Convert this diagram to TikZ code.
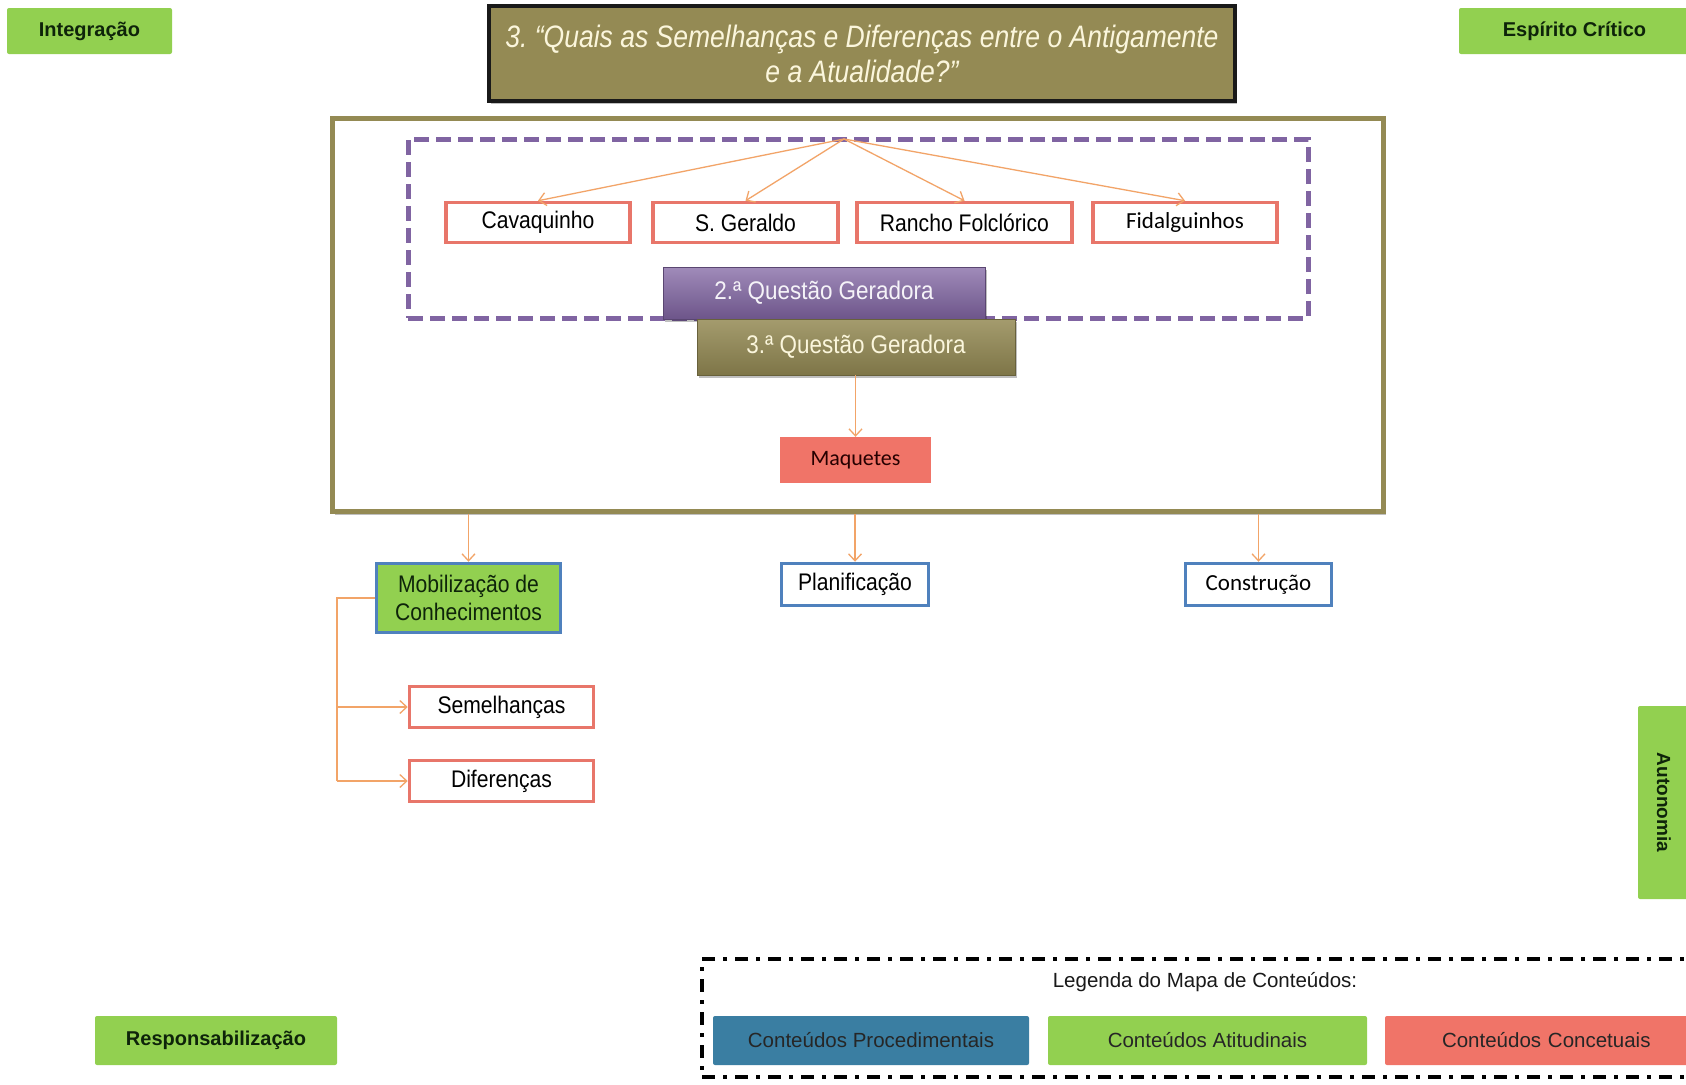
\documentclass[tikz,border=0pt]{standalone}
\usepackage{fontspec}
\setmainfont{Liberation Sans}
\newfontfamily\narrowf[FakeStretch=0.88]{Liberation Sans}
\newfontfamily\titlef[FakeStretch=0.855]{Liberation Sans}
\newfontfamily\calf{Carlito}
\usetikzlibrary{arrows.meta,shadows,calc}
\definecolor{lgreen}{HTML}{92D050}
\definecolor{olivec}{HTML}{948A54}
\definecolor{purp}{HTML}{8064A2}
\definecolor{salmon}{HTML}{E8766A}
\definecolor{salfill}{HTML}{F07468}
\definecolor{bblue}{HTML}{4F81BD}
\definecolor{tealb}{HTML}{3A7EA2}
\definecolor{arrc}{HTML}{F2A468}
\definecolor{dkgreen}{HTML}{0E240A}
\definecolor{cream}{HTML}{FBF6DC}
\tikzset{
  greenlab/.style={fill=lgreen, rounded corners=2pt, text=dkgreen, inner sep=0pt,
    font=\bfseries\fontsize{20}{24}\selectfont},
  redbox/.style={draw=salmon, line width=3.5pt, fill=white, inner sep=0pt, text=black,
    font=\narrowf\fontsize{24}{28}\selectfont},
  bluebox/.style={draw=bblue, line width=3.5pt, fill=white, inner sep=0pt, text=black,
    font=\narrowf\fontsize{24}{28}\selectfont},
  legbox/.style={rounded corners=2pt, inner sep=0pt, text=black!85,
    font=\fontsize{20.5}{24}\selectfont},
  conn/.style={draw=arrc, line width=1.3pt,
    -{Straight Barb[length=7pt,width=13pt,line width=1.3pt]}},
  lineonly/.style={draw=arrc, line width=1.3pt},
  softshadow/.style={drop shadow={shadow xshift=2pt,shadow yshift=-3pt,opacity=0.25,fill=black}}
}
\begin{document}
\begin{tikzpicture}[x=1pt,y=-1pt]
\useasboundingbox (0,0) rectangle (1686,1084);
\clip (0,0) rectangle (1686,1084);
\fill[white] (0,0) rectangle (1686,1084);

% corner labels
\node[greenlab, minimum width=165pt, minimum height=46pt] (integ) at (89.5,31) {Integração};
\node[greenlab, minimum width=231pt, minimum height=46pt] (espirito) at (1574.5,31) {Espírito Crítico};
\node[greenlab, minimum width=242pt, minimum height=49pt] (resp) at (216,1040.5) {Responsabilização};
\node[greenlab, rotate=-90, minimum width=193pt, minimum height=52pt,
  font=\bfseries\fontsize{19}{22}\selectfont] (auton) at (1664,802.5) {Autonomia};

% title
\node[draw=black!90, line width=4pt, fill=olivec, minimum width=746pt, minimum height=95pt,
  inner sep=0pt, align=center, text=cream, softshadow,
  font=\titlef\itshape\fontsize{31}{35}\selectfont] (title) at (862,53.5)
  {3.\ “Quais as Semelhanças e Diferenças entre o Antigamente\\ e a Atualidade?”};

% big olive frame
\node[draw=olivec, line width=5pt, minimum width=1051pt, minimum height=393pt,
  inner sep=0pt, softshadow, fill=white] (frame) at (858,315) {};

% dashed purple frame
\node[draw=purp, line width=5pt, dash pattern=on 15pt off 7pt, minimum width=900pt,
  minimum height=179pt, inner sep=0pt] (dash) at (858,228.5) {};
\coordinate (apex) at (844,139);

% topic boxes
\node[redbox, minimum width=184pt, minimum height=40pt] (cav) at (538,222.5) {Cavaquinho};
\node[redbox, minimum width=185pt, minimum height=40pt] (sger) at (745.5,222.5) {S. Geraldo};
\node[redbox, minimum width=215pt, minimum height=40pt] (ranch) at (964.5,222.5) {Rancho Folclórico};
\node[redbox, minimum width=184pt, minimum height=40pt, font=\calf\fontsize{23}{26}\selectfont] (fidal) at (1185,222.5) {Fidalguinhos};

\draw[conn] (apex) -- (cav.north);
\draw[conn] (apex) -- (sger.north);
\draw[conn] (apex) -- (ranch.north);
\draw[conn] (apex) -- (fidal.north);

% question boxes
\node[top color=purp!75!white, bottom color=purp!85!black, draw=purp!70!black, line width=0.8pt,
  minimum width=322pt, minimum height=52pt, inner sep=0pt, text=white!92!purp,
  font=\narrowf\fontsize{25.5}{28}\selectfont, softshadow] (q2) at (824,293) {2.ª Questão Geradora};
\node[top color=olivec!85!white, bottom color=olivec!85!black, draw=olivec!70!black, line width=0.8pt,
  minimum width=318pt, minimum height=56pt, inner sep=0pt, text=cream,
  font=\narrowf\fontsize{25.5}{28}\selectfont, softshadow] (q3) at (856,347) {3.ª Questão Geradora};

\node[fill=salfill, minimum width=151pt, minimum height=46pt, inner sep=0pt, text=black!85!red,
  font=\calf\fontsize{22}{26}\selectfont] (maq) at (855.5,460) {Maquetes};
\draw[conn] (q3.south -| maq.north) -- (maq.north);

% lower boxes
\node[draw=bblue, line width=3.5pt, fill=lgreen, minimum width=184pt, minimum height=69pt,
  inner sep=0pt, align=center, text=dkgreen, font=\narrowf\fontsize{24}{28}\selectfont]
  (mob) at (468.5,598) {Mobilização de\\Conhecimentos};
\node[bluebox, minimum width=147pt, minimum height=42pt] (plan) at (855,584.5) {Planificação};
\node[bluebox, minimum width=146pt, minimum height=42pt, font=\calf\fontsize{23}{26}\selectfont] (constr) at (1258.5,584.5) {Construção};

\draw[conn] (frame.south -| mob.north) -- (mob.north);
\draw[conn] (frame.south -| plan.north) -- (plan.north);
\draw[conn] (frame.south -| constr.north) -- (constr.north);

\node[redbox, minimum width=184pt, minimum height=41pt] (semel) at (501.5,707) {Semelhanças};
\node[redbox, minimum width=184pt, minimum height=41pt] (difer) at (501.5,781) {Diferenças};
\coordinate (brk) at (337,598);
\draw[lineonly] (mob.west) -- (brk) -- (brk |- difer.west);
\draw[conn] (brk |- semel.west) -- (semel.west);
\draw[conn] (brk |- difer.west) -- (difer.west);

% legend
\node[draw=black, line width=4pt, dash pattern=on 13pt off 8pt on 4pt off 8pt,
  minimum width=1020pt, minimum height=118pt, inner sep=0pt, anchor=north west] (legframe) at (700,957) {};
\node[font=\fontsize{20.5}{24}\selectfont, text=black!90, inner sep=0pt] (legtitle) at (1205,982) {Legenda do Mapa de Conteúdos:};
\node[legbox, fill=tealb, minimum width=316pt, minimum height=49pt] (proc) at (871,1040.5) {Conteúdos Procedimentais};
\node[legbox, fill=lgreen, minimum width=319pt, minimum height=49pt] (atit) at (1207.5,1040.5) {Conteúdos Atitudinais};
\node[legbox, fill=salfill, minimum width=315pt, minimum height=49pt, text width=301pt, align=left] (conc) at (1542.5,1040.5) {\hspace*{50pt}Conteúdos Concetuais};
\end{tikzpicture}
\end{document}
